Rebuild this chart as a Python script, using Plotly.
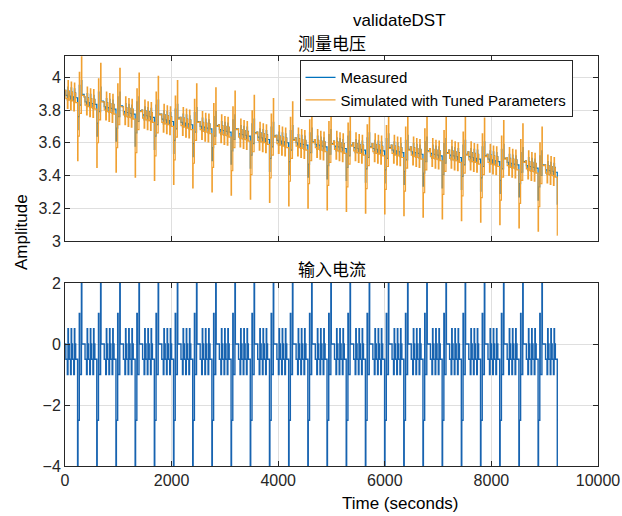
import plotly.graph_objects as go

# ---- DST cycle definition (one cycle, repeated) ----
step_dur = [16, 28, 12, 8, 16, 24, 12, 8, 16, 24, 12, 8, 16, 36, 8, 24, 8, 32, 8, 44]
step_cur = [0, -0.5, -1, 0.5, 0, -0.5, -1, 0.5, 0, -0.5, -1, 0.5, 0, -0.5, -4, -2.5, 1, -1, 2, 0]

# voltage offsets from cycle rest level for each step
meas_off = [0, -0.03, -0.06, 0.02, -0.005, -0.035, -0.065, 0.015, -0.01, -0.04,
            -0.07, 0.01, -0.015, -0.045, -0.24, -0.16, 0.03, -0.09, 0.06, -0.025]
sim_off = [0, -0.05, -0.11, 0.06, -0.008, -0.06, -0.12, 0.05, -0.012, -0.065,
           -0.125, 0.045, -0.018, -0.075, -0.43, -0.28, 0.11, -0.14, 0.205, -0.03]

# measured rest level at the start of each of the 26 cycles
cycle_base = [3.92, 3.88, 3.85, 3.82, 3.80, 3.775, 3.755, 3.73, 3.71, 3.685,
              3.665, 3.645, 3.63, 3.62, 3.61, 3.60, 3.595, 3.585, 3.575, 3.565,
              3.555, 3.545, 3.53, 3.51, 3.49, 3.465]
last_step = 15          # recording stops during the -4 step of the last cycle
cycle_len = 360

x_ticks = [0, 2000, 4000, 6000, 8000, 10000]
x_tick_text = ["0", "2000", "4000", "6000", "8000", "10000"]

# ---- build step series ----
t, cur, vm, vs = [], [], [], []
for k, base in enumerate(cycle_base):
    t0 = k * cycle_len
    nsteps = len(step_dur) if k < len(cycle_base) - 1 else last_step
    for j in range(nsteps):
        t.append(t0)
        cur.append(step_cur[j])
        vm.append(base + meas_off[j])
        vs.append(base + sim_off[j])
        t0 += step_dur[j]
    if k == len(cycle_base) - 1:
        t.append(t0)
        cur.append(cur[-1]); vm.append(vm[-1]); vs.append(vs[-1])

BLUE = "#0072BD"
ORANGE = "#F0A030"
FONT = "Liberation Sans, Arial, sans-serif"
CJK = "Noto Sans CJK SC"

fig = go.Figure()
fig.add_trace(go.Scatter(x=t, y=vm, mode="lines", line=dict(color=BLUE, width=1.2, shape="hv"),
                         name="Measured", xaxis="x", yaxis="y"))
fig.add_trace(go.Scatter(x=t, y=vs, mode="lines", line=dict(color=ORANGE, width=1.2, shape="hv"),
                         name="Simulated with Tuned Parameters", xaxis="x", yaxis="y"))
fig.add_trace(go.Scatter(x=t, y=cur, mode="lines", line=dict(color="#1763B0", width=1.4, shape="hv"),
                         showlegend=False, xaxis="x2", yaxis="y2"))

axis_common = dict(showline=True, linecolor="#262626", linewidth=1, mirror="ticks",
                   ticks="inside", ticklen=5, tickcolor="#262626", automargin=False,
                   showgrid=True, gridcolor="#DFDFDF", gridwidth=1, zeroline=False,
                   tickfont=dict(family=FONT, size=16, color="#262626"))

fig.update_layout(
    width=622, height=516,
    margin=dict(l=65, r=24, t=56, b=50),
    plot_bgcolor="white", paper_bgcolor="white",
    xaxis=dict(domain=[0, 1], range=[0, 10000], tickvals=x_ticks,
               showticklabels=False, anchor="y", **axis_common),
    yaxis=dict(domain=[0.5488, 1], range=[3, 4.13], tickvals=[3, 3.2, 3.4, 3.6, 3.8, 4],
               ticktext=["3", "3.2", "3.4", "3.6", "3.8", "4"], anchor="x", **axis_common),
    xaxis2=dict(domain=[0, 1], range=[0, 10000], tickvals=x_ticks, ticktext=x_tick_text,
                anchor="y2", **axis_common),
    yaxis2=dict(domain=[0, 0.4463], range=[-4, 2], tickvals=[-4, -2, 0, 2], anchor="x2",
                **axis_common),
    legend=dict(x=0.44, y=0.99, xanchor="left", yanchor="top",
                bgcolor="white", bordercolor="#262626", borderwidth=1,
                font=dict(family=FONT, size=15, color="black"),
                tracegroupgap=0),
    showlegend=True,
)

ann = [
    dict(text="validateDST", x=0.627, y=(466 - 21) / 410, font=dict(family=FONT, size=17, color="black")),
    dict(text="测量电压", x=0.5, y=(466 - 43) / 410, font=dict(family=CJK, size=17, color="black")),
    dict(text="输入电流", x=0.5, y=(466 - 268) / 410, font=dict(family=CJK, size=17, color="black")),
    dict(text="Time (seconds)", x=0.629, y=(466 - 503) / 410, font=dict(family=FONT, size=17, color="black")),
    dict(text="Amplitude", x=(21 - 65) / 533, y=(466 - 232) / 410, textangle=-90,
         font=dict(family=FONT, size=17, color="black")),
]
for a in ann:
    fig.add_annotation(xref="paper", yref="paper", showarrow=False,
                       xanchor="center", yanchor="middle", **a)

fig.write_html("out.html")
